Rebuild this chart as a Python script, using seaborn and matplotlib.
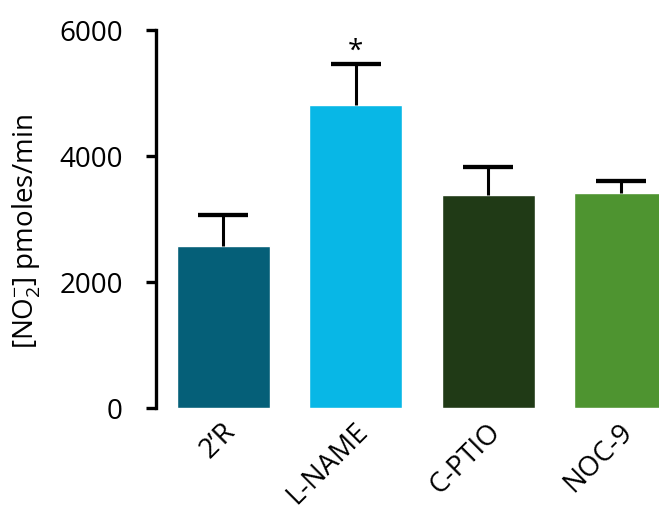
import matplotlib
matplotlib.use("Agg")
import matplotlib.pyplot as plt
import matplotlib.transforms as mtransforms
import seaborn as sns
import pandas as pd
import numpy as np

groups = ["2\u2019R", "L-NAME", "C-PTIO", "NOC-9"]
means = [2576, 4814, 3376, 3418]
sem = [492, 641, 444, 180]
colors = ["#055F78", "#08B7E6", "#203A16", "#4E9430"]
yticks = [0, 2000, 4000, 6000]

sns.set_theme(style="white")
plt.rcParams["font.family"] = ["Open Sans", "DejaVu Sans"]
plt.rcParams["mathtext.fontset"] = "custom"
plt.rcParams["mathtext.rm"] = "Open Sans"
plt.rcParams["mathtext.it"] = "Open Sans"
plt.rcParams["text.color"] = "black"
plt.rcParams["axes.labelcolor"] = "black"
plt.rcParams["xtick.color"] = "black"
plt.rcParams["ytick.color"] = "black"

df = pd.DataFrame({"group": groups, "value": means})

fig = plt.figure(figsize=(6.59, 5.11), dpi=100)
ax = fig.add_axes([156 / 659, 103 / 511, 1 - 156 / 659, 378 / 511])

sns.barplot(data=df, x="group", y="value", hue="group", palette=colors,
            legend=False, width=0.7, errorbar=None, ax=ax, saturation=1)

# upper-only error bars (SEM)
_, caps, _ = ax.errorbar(np.arange(len(groups)), means,
                         yerr=[[0] * len(sem), sem],
                         fmt="none", ecolor="black", elinewidth=2.2,
                         capsize=17.8, capthick=3.1, zorder=1)
caps[0].set_visible(False)

ax.text(1, means[1] + sem[1] + 200, "*", ha="center", va="center",
        fontsize=20, color="black")

ax.set_ylim(0, 6000)
ax.set_xlim(-0.509, 3.29)
ax.set_yticks(yticks)
ax.set_yticklabels([str(t) for t in yticks], fontsize=20)

for side in ["top", "right", "bottom"]:
    ax.spines[side].set_visible(False)
ax.spines["left"].set_linewidth(2.4)
ax.spines["left"].set_color("black")
ax.tick_params(axis="y", direction="out", length=7, width=2.4, color="black",
               left=True, pad=17)
ax.tick_params(axis="x", length=0, pad=7)

ax.set_xlabel("")
ax.set_ylabel(r"[NO$_2^{-}$] pmoles/min", fontsize=20)
ax.yaxis.set_label_coords(-0.225, 0.466)

shift = mtransforms.ScaledTranslation(0.08, -0.10, fig.dpi_scale_trans)
for lbl in ax.get_xticklabels():
    lbl.set_rotation(45)
    lbl.set_ha("right")
    lbl.set_va("center")
    lbl.set_rotation_mode("anchor")
    lbl.set_fontsize(20)
    lbl.set_transform(lbl.get_transform() + shift)

fig.savefig("out.png", dpi=100)
